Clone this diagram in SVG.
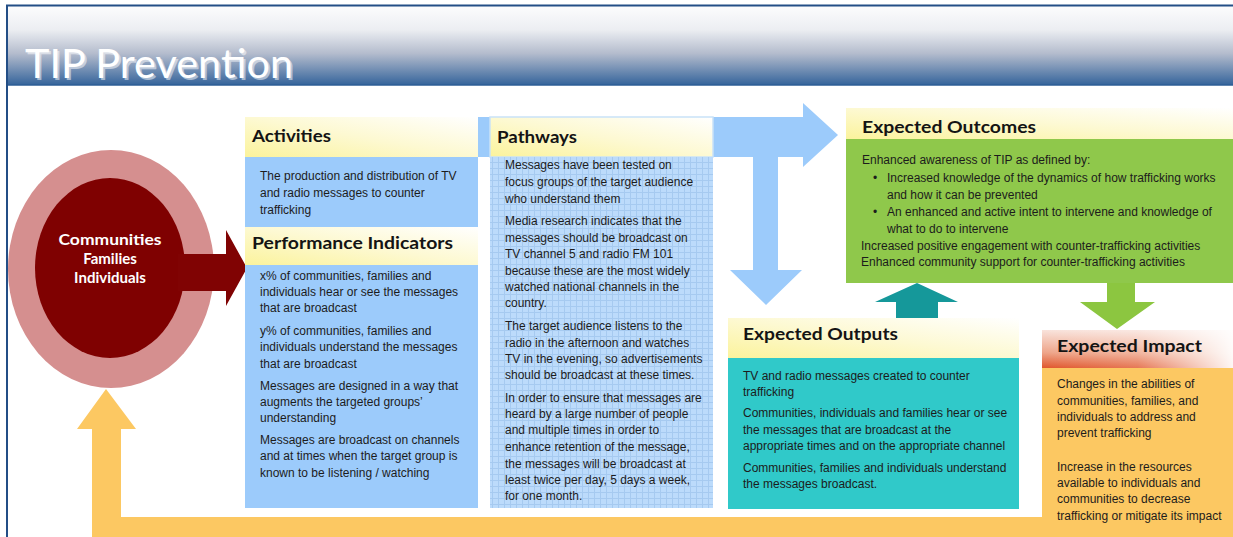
<svg xmlns="http://www.w3.org/2000/svg" width="1233" height="537" viewBox="0 0 1233 537">
<style>
.body{font-family:"Liberation Sans",Arial,sans-serif;font-size:12px;fill:#1c1c1c}
.hd{font-family:Lato,"Open Sans",sans-serif;font-weight:700;font-size:17px;fill:#141414}
.ctr{font-family:Lato,"Open Sans",sans-serif;font-weight:700;font-size:15px;fill:#ffffff;text-anchor:middle}
.title{font-family:Lato,"Open Sans",sans-serif;font-weight:400;font-size:40px;fill:#ffffff}
</style>
<defs>
<linearGradient id="barG" x1="0" y1="0" x2="0" y2="1">
<stop offset="0" stop-color="#fcfcfd"/>
<stop offset="0.3" stop-color="#eceef2"/>
<stop offset="0.6" stop-color="#b4bccd"/>
<stop offset="1" stop-color="#35649b"/>
</linearGradient>
<linearGradient id="hdY" x1="0" y1="1" x2="1" y2="0">
<stop offset="0" stop-color="#fbf39c"/>
<stop offset="0.5" stop-color="#fdf9d2"/>
<stop offset="1" stop-color="#ffffff"/>
</linearGradient>
<linearGradient id="hdR" x1="0" y1="0" x2="0" y2="1">
<stop offset="0" stop-color="#f9e3dc"/>
<stop offset="0.6" stop-color="#eea488"/>
<stop offset="1" stop-color="#e0562c"/>
</linearGradient>
<linearGradient id="hdRw" x1="0" y1="0" x2="1" y2="0">
<stop offset="0" stop-color="#ffffff" stop-opacity="0"/>
<stop offset="0.5" stop-color="#ffffff" stop-opacity="0.2"/>
<stop offset="1" stop-color="#ffffff" stop-opacity="0.95"/>
</linearGradient>
<pattern id="grid" width="6" height="6" patternUnits="userSpaceOnUse">
<rect width="6" height="6" fill="#bcdbfb"/>
<path d="M0 0.5H6M0.5 0V6" stroke="#a6caf0" stroke-width="1"/>
</pattern>
</defs>
<rect width="1233" height="537" fill="#ffffff"/>

<g id="title-bar">
<rect x="7" y="6" width="1226" height="79" fill="url(#barG)"/>
<line x1="7" y1="85" x2="1233" y2="85" stroke="#2e5e96" stroke-width="1.5"/>
<line x1="6" y1="5.5" x2="1233" y2="5.5" stroke="#234e86" stroke-width="2"/>
<line x1="7" y1="5" x2="7" y2="537" stroke="#234e86" stroke-width="2"/>
<text class="title" x="27" y="80" fill="#1d3a5e" opacity="0.5" textLength="268" lengthAdjust="spacingAndGlyphs">TIP Prevention</text>
<text class="title" x="25" y="78" textLength="268" lengthAdjust="spacingAndGlyphs">TIP Prevention</text>
</g>

<g id="population">
<ellipse cx="111" cy="269" rx="103" ry="119" fill="#d58f8f"/>
<ellipse cx="110" cy="268" rx="75" ry="90" fill="#7f0101"/>
<text class="ctr" x="110" y="245" textLength="103" lengthAdjust="spacingAndGlyphs">Communities</text>
<text class="ctr" x="110" y="264">Families</text>
<text class="ctr" x="110" y="283">Individuals</text>
</g>

<g id="connectors">
<path d="M92 537V429H77L106 389L136 429H121V517H1233V537Z" fill="#fcc862"/>
<path d="M178 254H226V230L247 268L226 306V291H178Z" fill="#800303"/>
<path d="M478 117H803V103L838 135L803 167V157H778V270H802L766 305L730 270H753V157H478Z" fill="#9ccbfb"/>
<path d="M896 318V302H875L917 283L958 302H938V318Z" fill="#15989a"/>
<path d="M1107 283V302H1080L1117 329L1155 302H1135V283Z" fill="#8cc640"/>
</g>

<g id="activities">
<rect x="245" y="117" width="233" height="40" fill="url(#hdY)"/>
<rect x="245" y="157" width="233" height="70" fill="#9ccbfb"/>
<text class="hd" x="252" y="142" textLength="79" lengthAdjust="spacingAndGlyphs">Activities</text>
<text class="body" x="260" y="180">The production and distribution of TV</text>
<text class="body" x="260" y="197">and radio messages to counter</text>
<text class="body" x="260" y="214">trafficking</text>
</g>

<g id="performance-indicators">
<rect x="245" y="227" width="233" height="38" fill="url(#hdY)"/>
<rect x="245" y="265" width="233" height="243" fill="#9ccbfb"/>
<text class="hd" x="252" y="249" textLength="201" lengthAdjust="spacingAndGlyphs">Performance Indicators</text>
<text class="body" x="260" y="280">x% of communities, families and</text>
<text class="body" x="260" y="296">individuals hear or see the messages</text>
<text class="body" x="260" y="312">that are broadcast</text>
<text class="body" x="260" y="335">y% of communities, families and</text>
<text class="body" x="260" y="351">individuals understand the messages</text>
<text class="body" x="260" y="368">that are broadcast</text>
<text class="body" x="260" y="390">Messages are designed in a way that</text>
<text class="body" x="260" y="406">augments the targeted groups’</text>
<text class="body" x="260" y="422">understanding</text>
<text class="body" x="260" y="444">Messages are broadcast on channels</text>
<text class="body" x="260" y="460">and at times when the target group is</text>
<text class="body" x="260" y="477">known to be listening / watching</text>
</g>

<g id="pathways">
<rect x="490" y="117" width="223" height="40" fill="url(#hdY)" stroke="#c9e2f8" stroke-width="1.5"/>
<rect x="490" y="157" width="223" height="351" fill="url(#grid)"/>
<text class="hd" x="497" y="143" textLength="80" lengthAdjust="spacingAndGlyphs">Pathways</text>
<text class="body" x="505" y="169">Messages have been tested on</text>
<text class="body" x="505" y="186">focus groups of the target audience</text>
<text class="body" x="505" y="203">who understand them</text>
<text class="body" x="505" y="225">Media research indicates that the</text>
<text class="body" x="505" y="242">messages should be broadcast on</text>
<text class="body" x="505" y="258">TV channel 5 and radio FM 101</text>
<text class="body" x="505" y="275">because these are the most widely</text>
<text class="body" x="505" y="291">watched national channels in the</text>
<text class="body" x="505" y="307">country.</text>
<text class="body" x="505" y="330">The target audience listens to the</text>
<text class="body" x="505" y="347">radio in the afternoon and watches</text>
<text class="body" x="505" y="363">TV in the evening, so advertisements</text>
<text class="body" x="505" y="379">should be broadcast at these times.</text>
<text class="body" x="505" y="402">In order to ensure that messages are</text>
<text class="body" x="505" y="418">heard by a large number of people</text>
<text class="body" x="505" y="434">and multiple times in order to</text>
<text class="body" x="505" y="451">enhance retention of the message,</text>
<text class="body" x="505" y="468">the messages will be broadcast at</text>
<text class="body" x="505" y="484">least twice per day, 5 days a week,</text>
<text class="body" x="505" y="500">for one month.</text>
</g>

<g id="expected-outcomes">
<rect x="846" y="108" width="387" height="31" fill="url(#hdY)"/>
<rect x="846" y="139" width="387" height="144" fill="#8fc84b"/>
<text class="hd" x="862" y="133" textLength="174" lengthAdjust="spacingAndGlyphs">Expected Outcomes</text>
<text class="body" x="862" y="164">Enhanced awareness of TIP as defined by:</text>
<text class="body" x="873" y="182">•</text>
<text class="body" x="887" y="182">Increased knowledge of the dynamics of how trafficking works</text>
<text class="body" x="887" y="199">and how it can be prevented</text>
<text class="body" x="873" y="216">•</text>
<text class="body" x="887" y="216">An enhanced and active intent to intervene and knowledge of</text>
<text class="body" x="887" y="233">what to do to intervene</text>
<text class="body" x="861" y="250">Increased positive engagement with counter-trafficking activities</text>
<text class="body" x="861" y="266">Enhanced community support for counter-trafficking activities</text>
</g>

<g id="expected-outputs">
<rect x="728" y="318" width="291" height="40" fill="url(#hdY)"/>
<rect x="728" y="358" width="291" height="151" fill="#30c9c9"/>
<text class="hd" x="743" y="340" textLength="155" lengthAdjust="spacingAndGlyphs">Expected Outputs</text>
<text class="body" x="743" y="380">TV and radio messages created to counter</text>
<text class="body" x="743" y="396">trafficking</text>
<text class="body" x="743" y="417">Communities, individuals and families hear or see</text>
<text class="body" x="743" y="434">the messages that are broadcast at the</text>
<text class="body" x="743" y="450">appropriate times and on the appropriate channel</text>
<text class="body" x="743" y="472">Communities, families and individuals understand</text>
<text class="body" x="743" y="488">the messages broadcast.</text>
</g>

<g id="expected-impact">
<rect x="1042" y="330" width="191" height="38" fill="url(#hdR)"/>
<rect x="1042" y="330" width="191" height="38" fill="url(#hdRw)"/>
<rect x="1042" y="368" width="191" height="169" fill="#fcc862"/>
<text class="hd" x="1057" y="352" textLength="145" lengthAdjust="spacingAndGlyphs">Expected Impact</text>
<text class="body" x="1057" y="388">Changes in the abilities of</text>
<text class="body" x="1057" y="405">communities, families, and</text>
<text class="body" x="1057" y="421">individuals to address and</text>
<text class="body" x="1057" y="437">prevent trafficking</text>
<text class="body" x="1057" y="471">Increase in the resources</text>
<text class="body" x="1057" y="487">available to individuals and</text>
<text class="body" x="1057" y="503">communities to decrease</text>
<text class="body" x="1057" y="520">trafficking or mitigate its impact</text>
</g>
</svg>
